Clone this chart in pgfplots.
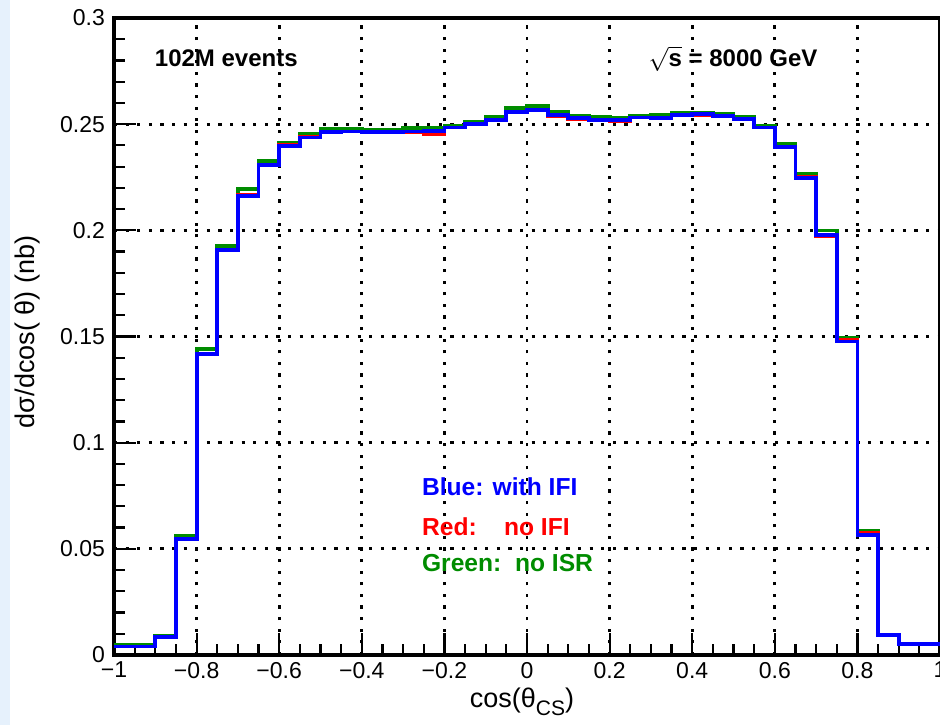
\documentclass[border=0pt]{standalone}
\usepackage{pgfplots}
\pgfplotsset{compat=1.18}
\usepackage{pgfplotstable}
\usepackage{amsmath}
\usepackage{fontspec}
\setmainfont{Liberation Sans}

\definecolor{rblue}{RGB}{0,0,255}
\definecolor{rred}{RGB}{255,0,0}
\definecolor{rgreen}{RGB}{0,140,0}
\definecolor{slide}{RGB}{230,241,252}

\pgfplotstableread{
x      blue    red     green
-1.00  0.0040  0.0040  0.0046
-0.95  0.0040  0.0040  0.0046
-0.90  0.0085  0.0085  0.0088
-0.85  0.0546  0.0548  0.0562
-0.80  0.1418  0.1420  0.1440
-0.75  0.1908  0.1910  0.1925
-0.70  0.2162  0.2165  0.2195
-0.65  0.2308  0.2310  0.2327
-0.60  0.2398  0.2400  0.2413
-0.55  0.2437  0.2439  0.2455
-0.50  0.2462  0.2462  0.2476
-0.45  0.2465  0.2465  0.2478
-0.40  0.2462  0.2462  0.2475
-0.35  0.2462  0.2462  0.2475
-0.30  0.2465  0.2463  0.2480
-0.25  0.2468  0.2453  0.2481
-0.20  0.2484  0.2484  0.2493
-0.15  0.2500  0.2500  0.2510
-0.10  0.2521  0.2521  0.2534
-0.05  0.2559  0.2559  0.2575
 0.00  0.2567  0.2567  0.2585
 0.05  0.2544  0.2538  0.2559
 0.10  0.2528  0.2526  0.2540
 0.15  0.2520  0.2520  0.2532
 0.20  0.2518  0.2515  0.2530
 0.25  0.2531  0.2531  0.2540
 0.30  0.2528  0.2528  0.2544
 0.35  0.2544  0.2544  0.2553
 0.40  0.2547  0.2541  0.2553
 0.45  0.2540  0.2540  0.2550
 0.50  0.2525  0.2525  0.2534
 0.55  0.2484  0.2484  0.2493
 0.60  0.2394  0.2394  0.2407
 0.65  0.2248  0.2250  0.2266
 0.70  0.1978  0.1971  0.1999
 0.75  0.1476  0.1482  0.1495
 0.80  0.0565  0.0575  0.0586
 0.85  0.0094  0.0094  0.0096
 0.90  0.0050  0.0050  0.0050
 0.95  0.0050  0.0050  0.0050
 1.00  0.0050  0.0050  0.0050
}\hist

\begin{document}
\begin{tikzpicture}
\begin{axis}[
  name=ax,
  scale only axis,
  width=413pt, height=318.5pt,
  xmin=-1, xmax=1, ymin=0, ymax=0.3,
  xtick={-1,-0.8,-0.6,-0.4,-0.2,0,0.2,0.4,0.6,0.8,1},
  xticklabels={−1,−0.8,−0.6,−0.4,−0.2,0,0.2,0.4,0.6,0.8,1},
  ytick={0,0.05,0.1,0.15,0.2,0.25,0.3},
  yticklabels={0,0.05,0.1,0.15,0.2,0.25,0.3},
  minor x tick num=3, minor y tick num=4,
  tick pos=left, tick align=inside,
  major tick length=11pt, minor tick length=5.5pt,
  tick style={black, line width=1.1pt},
  axis line style={black, line width=1.8pt},
  grid=major,
  major grid style={black, line width=1.4pt, dash pattern=on 1.6pt off 4.2pt},
  ticklabel style={font=\fontsize{11.5}{13}\selectfont},
  yticklabel style={xshift=-1pt},
  xlabel={cos(θ\raisebox{-0.55ex}{\fontsize{10.5}{12}\selectfont CS})},
  xlabel style={at={(axis description cs:0.494,-0.0832)}, anchor=base, font=\fontsize{13.5}{16}\selectfont},
  ylabel={dσ/dcos( θ) (nb)},
  ylabel style={at={(axis description cs:-0.1053,0.507)}, anchor=center, font=\fontsize{13.5}{16}\selectfont},
]
\addplot[const plot, rgreen, line width=1.9pt] table[x=x, y=green] {\hist};
\addplot[const plot, rred, line width=1.9pt] table[x=x, y=red] {\hist};
\addplot[const plot, rblue, line width=1.9pt] table[x=x, y=blue] {\hist};

\node[anchor=base, font=\bfseries\fontsize{12}{14}\selectfont] at (axis cs:-0.728,0.277) {102M events};
\node[anchor=base, font=\bfseries\fontsize{12}{14}\selectfont] at (axis cs:0.499,0.277) {$\sqrt{\text{s}}$ = 8000 GeV};
\node[anchor=base west, inner sep=0pt, text=rblue, font=\bfseries\fontsize{12.3}{14}\selectfont] at (axis cs:-0.255,0.0749) {Blue: with IFI};
\node[anchor=base west, inner sep=0pt, text=rred, font=\bfseries\fontsize{12.3}{14}\selectfont] at (axis cs:-0.255,0.0565) {\makebox[41pt][l]{Red:}no IFI};
\node[anchor=base west, inner sep=0pt, text=rgreen, font=\bfseries\fontsize{12.3}{14}\selectfont] at (axis cs:-0.255,0.0392) {\makebox[46.5pt][l]{Green:}no ISR};
\end{axis}
\fill[slide] ([shift={(-57pt,-35pt)}]ax.south west) rectangle ([shift={(-52pt,9pt)}]ax.north west);
\pgfresetboundingbox
\path[use as bounding box] ([shift={(-57pt,-35pt)}]ax.south west) rectangle ([shift={(0pt,9pt)}]ax.north east);
\end{tikzpicture}
\end{document}
